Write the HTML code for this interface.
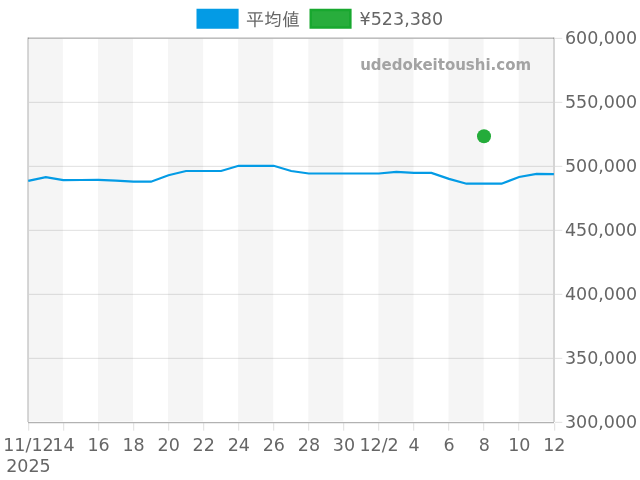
<!DOCTYPE html>
<html><head><meta charset="utf-8"><style>
html,body{margin:0;padding:0;background:#fff;}
svg{display:block;}
text{font-family:"DejaVu Sans","Noto Sans CJK JP",sans-serif;font-size:17.5px;fill:#666;}
</style></head><body>
<svg width="640" height="480" viewBox="0 0 640 480">
<rect width="640" height="480" fill="#fff"/>
<rect x="27.80" y="38.9" width="35.06" height="382.6" fill="#f5f5f5"/><rect x="97.92" y="38.9" width="35.06" height="382.6" fill="#f5f5f5"/><rect x="168.04" y="38.9" width="35.06" height="382.6" fill="#f5f5f5"/><rect x="238.16" y="38.9" width="35.06" height="382.6" fill="#f5f5f5"/><rect x="308.28" y="38.9" width="35.06" height="382.6" fill="#f5f5f5"/><rect x="378.40" y="38.9" width="35.06" height="382.6" fill="#f5f5f5"/><rect x="448.52" y="38.9" width="35.06" height="382.6" fill="#f5f5f5"/><rect x="518.64" y="38.9" width="35.06" height="382.6" fill="#f5f5f5"/>
<rect x="28" y="101.8" width="526" height="1.2" fill="#000" fill-opacity="0.1"/><rect x="28" y="165.8" width="526" height="1.2" fill="#000" fill-opacity="0.1"/><rect x="28" y="229.8" width="526" height="1.2" fill="#000" fill-opacity="0.1"/><rect x="28" y="293.8" width="526" height="1.2" fill="#000" fill-opacity="0.1"/><rect x="28" y="357.8" width="526" height="1.2" fill="#000" fill-opacity="0.1"/>
<rect x="27" y="37.5" width="1" height="384.5" fill="#d7d7d7"/><rect x="28" y="37.5" width="1" height="384.5" fill="#d3d3d3"/>
<rect x="553" y="37.5" width="2" height="384.5" fill="#d5d5d5"/>
<rect x="28" y="37.4" width="526" height="1.6" fill="#000" fill-opacity="0.255"/>
<rect x="28" y="422" width="526" height="1.25" fill="#000" fill-opacity="0.3"/>
<rect x="555" y="37.8" width="7.3" height="1.2" fill="#000" fill-opacity="0.1"/><rect x="555" y="101.8" width="7.3" height="1.2" fill="#000" fill-opacity="0.1"/><rect x="555" y="165.8" width="7.3" height="1.2" fill="#000" fill-opacity="0.1"/><rect x="555" y="229.8" width="7.3" height="1.2" fill="#000" fill-opacity="0.1"/><rect x="555" y="293.8" width="7.3" height="1.2" fill="#000" fill-opacity="0.1"/><rect x="555" y="357.8" width="7.3" height="1.2" fill="#000" fill-opacity="0.1"/><rect x="555" y="421.8" width="7.3" height="1.2" fill="#000" fill-opacity="0.1"/>
<rect x="28" y="423.25" width="1.25" height="7.4" fill="#000" fill-opacity="0.1"/><rect x="63" y="423.25" width="1.25" height="7.4" fill="#000" fill-opacity="0.1"/><rect x="98" y="423.25" width="1.25" height="7.4" fill="#000" fill-opacity="0.1"/><rect x="133" y="423.25" width="1.25" height="7.4" fill="#000" fill-opacity="0.1"/><rect x="168" y="423.25" width="1.25" height="7.4" fill="#000" fill-opacity="0.1"/><rect x="203" y="423.25" width="1.25" height="7.4" fill="#000" fill-opacity="0.1"/><rect x="238" y="423.25" width="1.25" height="7.4" fill="#000" fill-opacity="0.1"/><rect x="273" y="423.25" width="1.25" height="7.4" fill="#000" fill-opacity="0.1"/><rect x="308" y="423.25" width="1.25" height="7.4" fill="#000" fill-opacity="0.1"/><rect x="343" y="423.25" width="1.25" height="7.4" fill="#000" fill-opacity="0.1"/><rect x="378" y="423.25" width="1.25" height="7.4" fill="#000" fill-opacity="0.1"/><rect x="413" y="423.25" width="1.25" height="7.4" fill="#000" fill-opacity="0.1"/><rect x="448" y="423.25" width="1.25" height="7.4" fill="#000" fill-opacity="0.1"/><rect x="483" y="423.25" width="1.25" height="7.4" fill="#000" fill-opacity="0.1"/><rect x="518" y="423.25" width="1.25" height="7.4" fill="#000" fill-opacity="0.1"/><rect x="554" y="423.25" width="1.25" height="7.4" fill="#000" fill-opacity="0.1"/>
<text x="360.2" y="70" style="font-weight:bold;font-size:15px;fill:#a3a3a3">udedokeitoushi.com</text>
<polyline points="28.25,180.8 45.78,177.1 63.31,180.1 80.84,180.0 98.37,179.8 115.90,180.6 133.43,181.7 150.96,181.7 168.49,175.2 186.02,171.0 203.55,171.0 221.08,171.0 238.61,165.8 256.14,165.8 273.67,165.8 291.20,171.0 308.73,173.5 326.26,173.5 343.79,173.5 361.32,173.5 378.85,173.5 396.38,171.8 413.91,172.95 431.44,172.9 448.97,178.9 466.50,183.7 484.03,183.7 501.56,183.7 519.09,177.0 536.62,173.85 553.90,174.2" fill="none" stroke="#039be5" stroke-width="2.2" stroke-linejoin="miter"/>
<circle cx="484" cy="136.2" r="7" fill="#24ac3a"/>
<text x="564.9" y="43.60">600,000</text><text x="564.9" y="107.70">550,000</text><text x="564.9" y="171.80">500,000</text><text x="564.9" y="235.90">450,000</text><text x="564.9" y="300.00">400,000</text><text x="564.9" y="364.10">350,000</text><text x="564.9" y="428.20">300,000</text>
<text x="28.45" y="450.7" text-anchor="middle">11/12</text><text x="63.51" y="450.7" text-anchor="middle">14</text><text x="98.57" y="450.7" text-anchor="middle">16</text><text x="133.63" y="450.7" text-anchor="middle">18</text><text x="168.69" y="450.7" text-anchor="middle">20</text><text x="203.75" y="450.7" text-anchor="middle">22</text><text x="238.81" y="450.7" text-anchor="middle">24</text><text x="273.87" y="450.7" text-anchor="middle">26</text><text x="308.93" y="450.7" text-anchor="middle">28</text><text x="343.99" y="450.7" text-anchor="middle">30</text><text x="379.05" y="450.7" text-anchor="middle">12/2</text><text x="414.11" y="450.7" text-anchor="middle">4</text><text x="449.17" y="450.7" text-anchor="middle">6</text><text x="484.23" y="450.7" text-anchor="middle">8</text><text x="519.29" y="450.7" text-anchor="middle">10</text><text x="554.35" y="450.7" text-anchor="middle">12</text>
<text x="28.4" y="471.8" text-anchor="middle">2025</text>
<rect x="197.75" y="10" width="39.6" height="17.5" fill="#039be5" stroke="#039be5" stroke-width="2.5"/>
<text x="246.1" y="25.5" style="font-family:'Liberation Sans',IPAGothic,sans-serif;font-size:18px">平均値</text>
<rect x="310.75" y="10" width="39.6" height="17.5" fill="#28ad3c" stroke="#18a82f" stroke-width="2.5"/>
<text x="359.6" y="25">¥523,380</text>
</svg>
</body></html>
